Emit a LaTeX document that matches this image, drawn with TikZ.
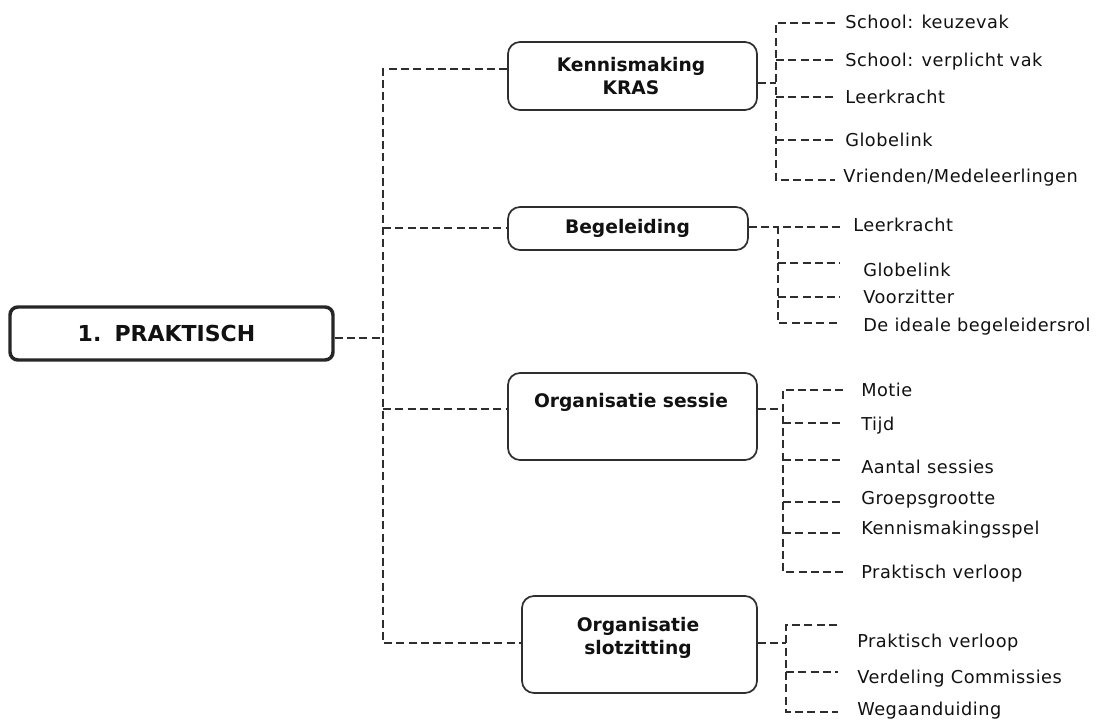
\documentclass[tikz,border=0pt]{standalone}
\usepackage{fontspec}
\setmainfont{DejaVu Sans}
\newfontfamily\itemfont[LetterSpace=3]{DejaVu Sans}
\definecolor{ln}{HTML}{2E2E2E}
\definecolor{txt}{HTML}{111111}
\tikzset{
  dl/.style={draw=ln, line width=1.6pt, dash pattern=on 6pt off 3.2pt},
  box/.style={draw=ln, line width=1.3pt, rounded corners=9pt, fill=white, inner sep=0pt},
  mainbox/.style={draw=black!85, line width=2.6pt, rounded corners=6pt, fill=white, inner sep=0pt},
  btxt/.style={font=\bfseries\fontsize{14}{17.25}\selectfont, align=center, inner sep=0pt, text=txt},
  mtxt/.style={font=\bfseries\fontsize{16.5}{19}\selectfont, inner sep=0pt, text=txt},
  itm/.style={font=\itemfont\fontsize{13.3}{15}\selectfont, anchor=west, inner sep=0pt, text height=9.7pt, text depth=0pt, text=txt},
}
\begin{document}
\begin{tikzpicture}[x=0.75pt, y=-0.75pt]
\useasboundingbox (0,0) rectangle (1097,721);

% boxes
\node[mainbox, minimum width=242.25pt, minimum height=39.75pt] (main) at (171.5,333.5) {};
\node[box, minimum width=186.75pt, minimum height=51pt] (ken) at (632.5,76) {};
\node[box, minimum width=180pt, minimum height=32.25pt] (beg) at (628,228.5) {};
\node[box, minimum width=186.75pt, minimum height=65.25pt] (ses) at (632.5,416.5) {};
\node[box, minimum width=176.25pt, minimum height=72.75pt] (slot) at (639.5,644.5) {};

% box texts
\node[mtxt] (mainT) at (166.5,333) {1.\hspace{0.6em}PRAKTISCH};
\node[btxt] (kenT) at (631,76.5) {Kennismaking\\KRAS};
\node[btxt] (begT) at (627.5,228) {Begeleiding};
\node[btxt] (sesT) at (631,402) {Organisatie sessie};
\node[btxt] (slotT) at (638,637.5) {Organisatie\\slotzitting};

% trunk
\coordinate (tr) at (383,338);
\coordinate (tTop) at (383,69);
\coordinate (tBot) at (383,643);
\coordinate (tB) at (383,228);
\coordinate (tS) at (383,409);
\draw[dl] (main.east |- tr) -- (tr);
\draw[dl] (tTop -| ken.west) -- (tTop) -- (tBot) -- (tBot -| slot.west);
\draw[dl] (tB) -- (tB -| beg.west);
\draw[dl] (tS) -- (tS -| ses.west);

% Kennismaking KRAS
\coordinate (kj) at (776,83);
\draw[dl] (ken.east |- kj) -- (kj);
\draw[dl] (835,23) -- (776,23) -- (776,180) -- (835,180);
\draw[dl] (776,60) -- (835,60);
\draw[dl] (776,97) -- (835,97);
\draw[dl] (776,140) -- (835,140);
\node[itm] (k1) at (845,22) {School: keuzevak};
\node[itm] (k2) at (845,60) {School: verplicht vak};
\node[itm] (k3) at (845,97) {Leerkracht};
\node[itm] (k4) at (845,140) {Globelink};
\node[itm] (k5) at (843,176) {Vrienden/Medeleerlingen};

% Begeleiding
\coordinate (bj) at (778,227);
\draw[dl] (beg.east |- bj) -- (bj);
\draw[dl] (840,227) -- (778,227) -- (778,323) -- (840,323);
\draw[dl] (778,263) -- (840,263);
\draw[dl] (778,297) -- (840,297);
\node[itm] (b1) at (853,225) {Leerkracht};
\node[itm] (b2) at (863,270) {Globelink};
\node[itm] (b3) at (863,297) {Voorzitter};
\node[itm] (b4) at (863,325) {De ideale begeleidersrol};

% Organisatie sessie
\coordinate (sj) at (783,409);
\draw[dl] (ses.east |- sj) -- (sj);
\draw[dl] (843,390) -- (783,390) -- (783,572) -- (843,572);
\draw[dl] (783,423) -- (843,423);
\draw[dl] (783,460) -- (843,460);
\draw[dl] (783,502) -- (843,502);
\draw[dl] (783,533) -- (843,533);
\node[itm] (s1) at (861,390) {Motie};
\node[itm] (s2) at (861,424) {Tijd};
\node[itm] (s3) at (861,467) {Aantal sessies};
\node[itm] (s4) at (861,498) {Groepsgrootte};
\node[itm] (s5) at (861,528) {Kennismakingsspel};
\node[itm] (s6) at (861,572) {Praktisch verloop};

% Organisatie slotzitting
\coordinate (lj) at (786,643);
\draw[dl] (slot.east |- lj) -- (lj);
\draw[dl] (837,625) -- (786,625) -- (786,712) -- (838,712);
\draw[dl] (786,672) -- (838,672);
\node[itm] (l1) at (857,641) {Praktisch verloop};
\node[itm] (l2) at (857,677) {Verdeling Commissies};
\node[itm] (l3) at (857,709) {Wegaanduiding};
\end{tikzpicture}
\end{document}
